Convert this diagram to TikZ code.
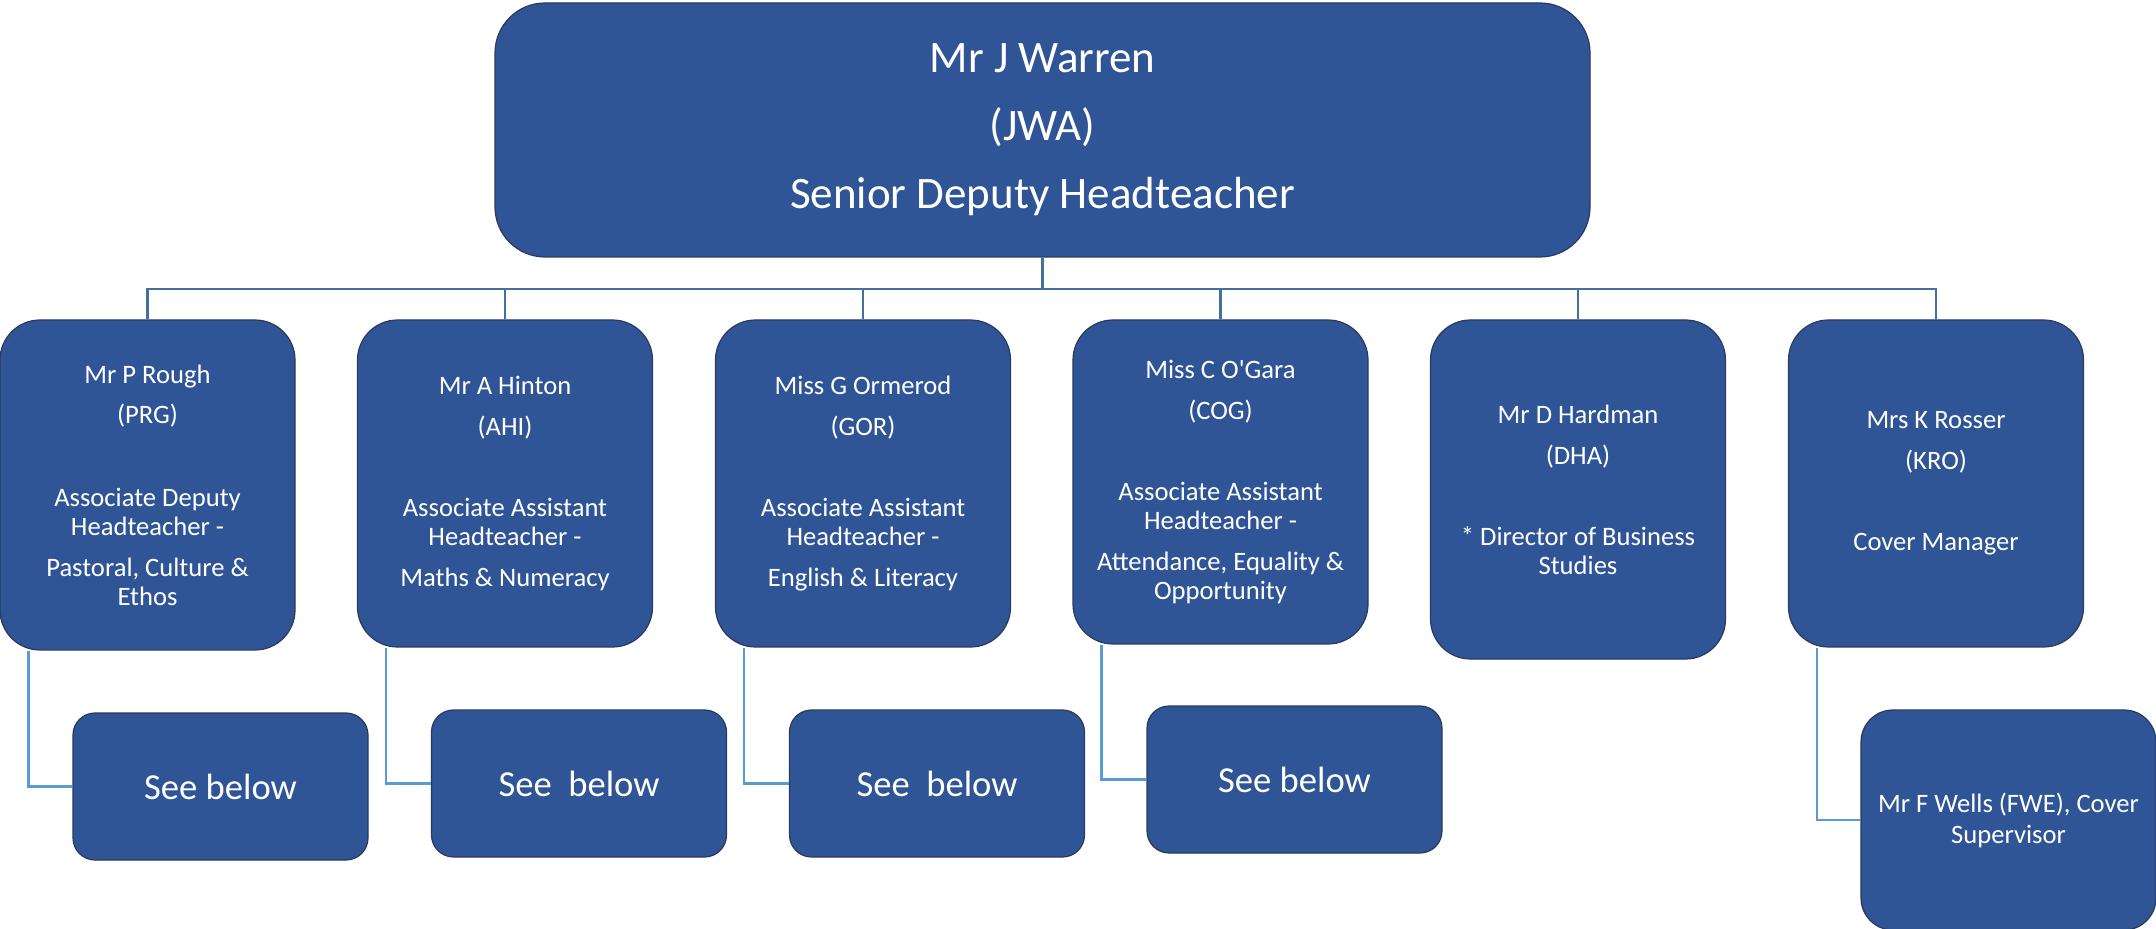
\documentclass[tikz,border=0pt]{standalone}
\usepackage{fontspec}
\setmainfont{Carlito}
\definecolor{boxblue}{HTML}{2F5597}
\definecolor{boxedge}{HTML}{2A3A5C}
\definecolor{busline}{HTML}{41719C}
\definecolor{dropline}{HTML}{5B9BD5}
\begin{document}
\begin{tikzpicture}[x=0.5pt,y=-0.5pt,
		card/.style={draw=boxedge,fill=boxblue,text=white,line width=0.6pt,align=center,inner sep=0pt,minimum width=147.5pt},
		staff/.style={card,rounded corners=20pt,font=\fontsize{13.3}{14.5}\selectfont},
		seebelow/.style={card,rounded corners=11pt,minimum height=73.5pt,font=\fontsize{18.3}{22}\selectfont},
		bus/.style={draw=busline,line width=1.4pt},
		drop/.style={draw=dropline,line width=1.4pt}]
		\useasboundingbox (0,0) rectangle (2156,929);
		% top
		\node[card,rounded corners=25pt,minimum width=547.5pt,minimum height=127pt,font=\fontsize{22.5}{34}\selectfont] (jwa) at (1042.5,130) {Mr J Warren\\(JWA)\\Senior Deputy Headteacher};
		% second row
		\node[staff,minimum height=165pt] (prg) at (147.5,485) {Mr P Rough\\[5.5pt](PRG)\\[27pt]Associate Deputy\\Headteacher -\\[6pt]Pastoral, Culture \&\\Ethos};
		\node[staff,minimum height=163.5pt] (ahi) at (505,483.5) {Mr A Hinton\\[6pt](AHI)\\[26pt]Associate Assistant\\Headteacher -\\[6pt]Maths \& Numeracy};
		\node[staff,minimum height=163.5pt] (gor) at (863,483.5) {Miss G Ormerod\\[6pt](GOR)\\[26pt]Associate Assistant\\Headteacher -\\[6pt]English \& Literacy};
		\node[staff,minimum height=162pt] (cog) at (1220.5,482) {Miss C O\textquotesingle Gara\\[6pt](COG)\\[26pt]Associate Assistant\\Headteacher -\\[6pt]Attendance, Equality \&\\Opportunity};
		\node[staff,minimum height=169.5pt] (dha) at (1578,489.5) {Mr D Hardman\\[6pt](DHA)\\[26pt]* Director of Business\\Studies};
		\node[staff,minimum height=163.5pt] (kro) at (1936,483.5) {Mrs K Rosser\\[6pt](KRO)\\[26pt]Cover Manager};
		% third row
		\node[seebelow] (sb1) at (220.5,786.5) {See below};
		\node[seebelow] (sb2) at (579,783.5) {See\ \ below};
		\node[seebelow] (sb3) at (937,783.5) {See\ \ below};
		\node[seebelow] (sb4) at (1294.5,779.5) {See below};
		\node[card,rounded corners=16pt,minimum height=110pt,font=\fontsize{13.3}{15.5}\selectfont] (fwe) at (2008.5,820) {Mr F Wells (FWE), Cover\\Supervisor};
		% lines
		\coordinate (bus) at (1042.5,289);
		\draw[bus] (jwa.south) -- (jwa.south |- bus);
		\draw[bus] (prg.north) |- (bus) -| (kro.north);
		\foreach \n in {ahi,gor,cog,dha}
			\draw[bus] (\n.north) -- (\n.north |- bus);
		\foreach \a/\b in {prg/sb1,ahi/sb2,gor/sb3,cog/sb4,kro/fwe}
			\draw[drop] ([xshift=14.5pt]\a.south west) |- (\b.west);
\end{tikzpicture}
\end{document}
